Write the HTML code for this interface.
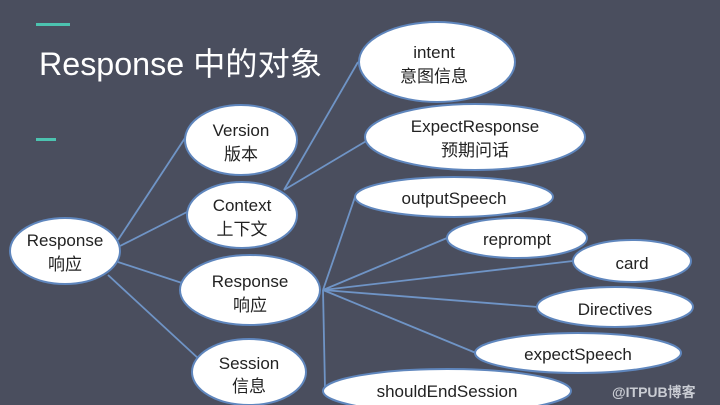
<html><body style="margin:0;background:#4a4e5e;">
<svg width="720" height="405" viewBox="0 0 720 405" xmlns="http://www.w3.org/2000/svg" style="display:block;font-family:'Liberation Sans','Noto Sans CJK SC',sans-serif;">
<rect width="720" height="405" fill="#4a4e5e"/>
<rect x="36" y="23" width="34" height="3" fill="#4cc3b0"/>
<rect x="36" y="138" width="20" height="3" fill="#4cc3b0"/>
<text x="39" y="75" font-size="32" fill="#fff" textLength="283" lengthAdjust="spacingAndGlyphs">Response 中的对象</text>
<g stroke="#6f94c6" stroke-width="1.8" fill="none">
<line x1="118" y1="240" x2="185" y2="138"/>
<line x1="120" y1="246" x2="187" y2="212"/>
<line x1="118" y1="262" x2="182" y2="283"/>
<line x1="108" y1="275" x2="200" y2="360"/>
<line x1="284" y1="190" x2="358" y2="62"/>
<line x1="284" y1="190" x2="368" y2="140"/>
<line x1="323" y1="290" x2="355" y2="197"/>
<line x1="323" y1="290" x2="447" y2="238"/>
<line x1="323" y1="290" x2="573" y2="261"/>
<line x1="323" y1="290" x2="538" y2="307"/>
<line x1="323" y1="290" x2="476" y2="353"/>
<line x1="323" y1="290" x2="325" y2="388"/>
</g>
<g fill="#fff" stroke="#5f86bd" stroke-width="2">
<ellipse cx="65" cy="251" rx="55" ry="33"/>
<ellipse cx="241" cy="140" rx="56" ry="35"/>
<ellipse cx="242" cy="215" rx="55" ry="33"/>
<ellipse cx="250" cy="290" rx="70" ry="35"/>
<ellipse cx="249" cy="372" rx="57" ry="33"/>
<ellipse cx="437" cy="62" rx="78" ry="40"/>
<ellipse cx="475" cy="137" rx="110" ry="33"/>
<ellipse cx="454" cy="197" rx="99" ry="20"/>
<ellipse cx="517" cy="238" rx="70" ry="20"/>
<ellipse cx="632" cy="261" rx="59" ry="21"/>
<ellipse cx="615" cy="307" rx="78" ry="20"/>
<ellipse cx="578" cy="353" rx="103" ry="20"/>
<ellipse cx="447" cy="391" rx="124" ry="22"/>
</g>
<g fill="#222" font-size="17" text-anchor="middle">
<text x="65" y="246">Response</text><text x="65" y="270">响应</text>
<text x="241" y="136">Version</text><text x="241" y="160">版本</text>
<text x="242" y="211">Context</text><text x="242" y="235">上下文</text>
<text x="250" y="287">Response</text><text x="250" y="311">响应</text>
<text x="249" y="369">Session</text><text x="249" y="392">信息</text>
<text x="434" y="58">intent</text><text x="434" y="82">意图信息</text>
<text x="475" y="132">ExpectResponse</text><text x="475" y="156">预期问话</text>
<text x="454" y="204">outputSpeech</text>
<text x="517" y="245">reprompt</text>
<text x="632" y="269">card</text>
<text x="615" y="315">Directives</text>
<text x="578" y="360">expectSpeech</text>
<text x="447" y="397">shouldEndSession</text>
</g>
<text x="612" y="397" font-size="14" font-weight="bold" fill="#c9ccd3">@ITPUB博客</text>
</svg>
</body></html>
